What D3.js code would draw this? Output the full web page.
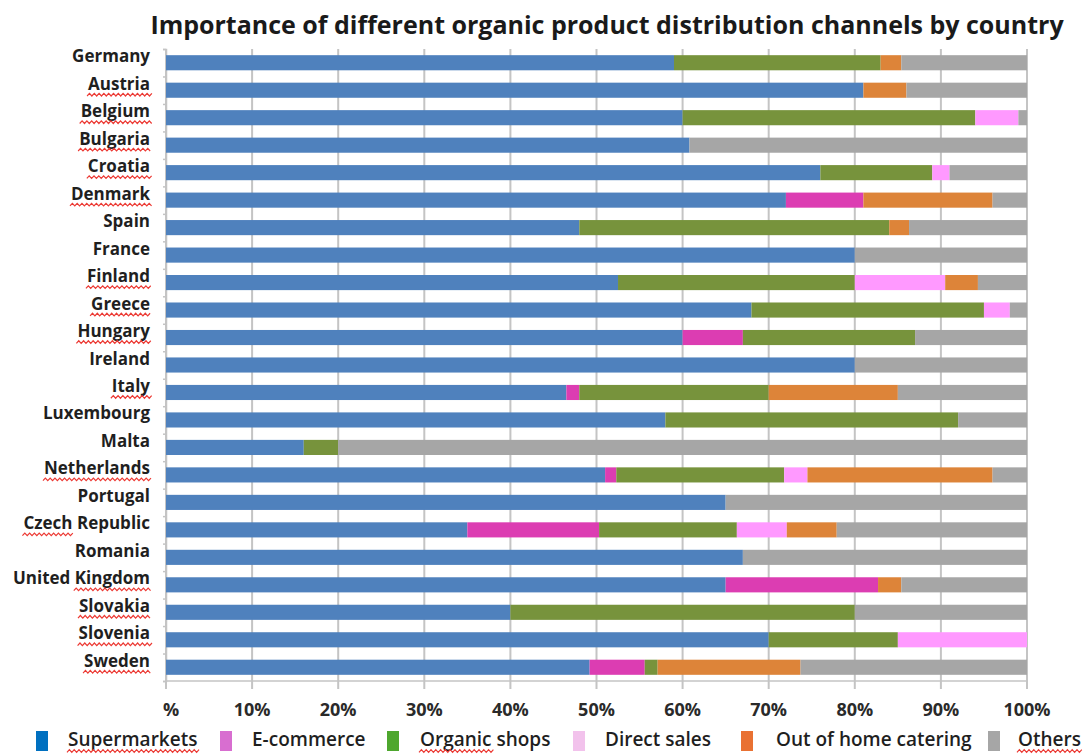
<!DOCTYPE html>
<html>
<head>
<meta charset="utf-8">
<script src="https://cdn.jsdelivr.net/npm/d3@7"></script>
<style>
  html, body { margin: 0; padding: 0; background: #ffffff; }
  svg { display: block; font-family: "Open Sans", "Noto Sans", sans-serif; }
</style>
</head>
<body>
<svg id="chart" width="1089" height="754"></svg>
<script>
// Share of each distribution channel (%) per country
const countries = ["Germany", "Austria", "Belgium", "Bulgaria", "Croatia", "Denmark", "Spain",
  "France", "Finland", "Greece", "Hungary", "Ireland", "Italy", "Luxembourg", "Malta",
  "Netherlands", "Portugal", "Czech Republic", "Romania", "United Kingdom", "Slovakia",
  "Slovenia", "Sweden"];
const supermarkets = [59, 81, 60, 60.8, 76, 72, 48, 80, 52.5, 68, 60, 80, 46.5, 58, 16, 51, 65, 35, 67, 65, 40, 70, 49.2];
const ecommerce    = [0, 0, 0, 0, 0, 9, 0, 0, 0, 0, 7, 0, 1.5, 0, 0, 1.3, 0, 15.3, 0, 17.7, 0, 0, 6.4];
const organicShops = [24, 0, 34, 0, 13, 0, 36, 0, 27.5, 27, 20, 0, 22, 34, 4, 19.5, 0, 16, 0, 0, 40, 15, 1.5];
const directSales  = [0, 0, 5, 0, 2, 0, 0, 0, 10.5, 3, 0, 0, 0, 0, 0, 2.7, 0, 5.8, 0, 0, 0, 15, 0];
const catering     = [2.4, 5, 0, 0, 0, 15, 2.3, 0, 3.8, 0, 0, 0, 15, 0, 0, 21.5, 0, 5.8, 0, 2.7, 0, 0, 16.6];
const others       = [14.6, 14, 1, 39.2, 9, 4, 13.7, 20, 5.7, 2, 13, 20, 15, 8, 80, 4, 35, 22.1, 33, 14.6, 20, 0, 26.3];

const seriesNames = ["Supermarkets", "E-commerce", "Organic shops", "Direct sales", "Out of home catering", "Others"];
const seriesValues = [supermarkets, ecommerce, organicShops, directSales, catering, others];
const tickValues = [0, 10, 20, 30, 40, 50, 60, 70, 80, 90, 100];
const tickLabels = ["0%", "10%", "20%", "30%", "40%", "50%", "60%", "70%", "80%", "90%", "100%"];
const titleText = "Importance of different organic product distribution channels by country";

// Bar fills and legend swatch fills
const barColors = ["#4f81bd", "#dc3db2", "#77933c", "#ff99ff", "#dd8439", "#a6a6a6"];
const swatchColors = ["#0070c0", "#d86ed0", "#4ea72e", "#f2c2ec", "#e97132", "#a6a6a6"];

// Words flagged by the spell checker in the source document (label -> [start, end])
const flagged = {
  "Austria": [0, 7], "Belgium": [0, 7], "Bulgaria": [0, 8], "Croatia": [0, 7], "Denmark": [0, 7],
  "Finland": [0, 7], "Greece": [0, 6], "Hungary": [0, 7], "Italy": [0, 5], "Netherlands": [0, 11],
  "Czech Republic": [0, 5], "United Kingdom": [7, 14], "Slovakia": [0, 8], "Slovenia": [0, 8],
  "Sweden": [0, 6], "Supermarkets": [0, 12], "Organic shops": [0, 7], "Others": [0, 6]
};

const rows = countries.map((c, i) => {
  const r = { country: c };
  seriesNames.forEach((s, k) => { r[s] = seriesValues[k][i]; });
  return r;
});

const svg = d3.select("#chart");
const plotLeft = 166, plotRight = 1027, plotTop = 49, plotBottom = 681;

const x = d3.scaleLinear().domain([0, 100]).range([plotLeft, plotRight]);
const y = d3.scaleBand().domain(countries).range([plotTop, plotBottom]).paddingInner(0.45).paddingOuter(0.225);

// Title
svg.append("text")
  .attr("x", 607).attr("y", 34)
  .attr("text-anchor", "middle")
  .attr("font-size", 25).attr("font-weight", 700)
  .attr("fill", "#1a1a1a")
  .text(titleText);

// Vertical gridlines (run a little below the axis as tick marks)
svg.append("g").selectAll("line")
  .data(tickValues)
  .join("line")
  .attr("x1", d => x(d)).attr("x2", d => x(d))
  .attr("y1", plotTop).attr("y2", plotBottom + 8)
  .attr("stroke", "#c4c4c4").attr("stroke-width", 2);

// Bottom axis line
svg.append("line")
  .attr("x1", plotLeft).attr("x2", plotRight)
  .attr("y1", plotBottom).attr("y2", plotBottom)
  .attr("stroke", "#c4c4c4").attr("stroke-width", 1.5);

// Left axis with small ticks at band boundaries
const yAxis = d3.axisLeft(d3.scaleLinear().domain([0, countries.length]).range([plotTop, plotBottom]))
  .ticks(countries.length).tickSize(3).tickFormat("");
svg.append("g")
  .attr("transform", `translate(${plotLeft},0)`)
  .call(yAxis)
  .call(g => g.selectAll("path, line").attr("stroke", "#c4c4c4").attr("stroke-width", 1.5));

// Stacked bars
const stacked = d3.stack().keys(seriesNames)(rows);
svg.append("g").selectAll("g")
  .data(stacked)
  .join("g")
  .attr("fill", (d, i) => barColors[i])
  .selectAll("rect")
  .data(d => d.filter(p => p[1] - p[0] > 0))
  .join("rect")
  .attr("x", d => x(d[0]))
  .attr("width", d => x(d[1]) - x(d[0]))
  .attr("y", d => y(d.data.country))
  .attr("height", y.bandwidth());

// Red spell-check squiggle under part of a text element
function squiggle(textSel, anchor) {
  textSel.each(function () {
    const label = this.textContent;
    const span = flagged[label];
    if (!span) return;
    const total = this.getComputedTextLength();
    const tx = +this.getAttribute("x"), ty = +this.getAttribute("y");
    const startX = anchor === "end" ? tx - total : tx;
    const x0 = startX + (span[0] > 0 ? this.getSubStringLength(0, span[0]) : 0) - 1;
    const x1 = startX + this.getSubStringLength(0, span[1]) + 2;
    const yy = ty + 5;
    const pts = [];
    for (let px = x0, k = 0; px <= x1; px += 2.4, k++) pts.push([px, yy + (k % 2 ? -1.3 : 1.3)]);
    d3.select(this.parentNode).append("path")
      .attr("d", d3.line()(pts))
      .attr("fill", "none").attr("stroke", "#ec3a34").attr("stroke-width", 1.2);
  });
}

// Country labels
const labelG = svg.append("g");
const labels = labelG.selectAll("text")
  .data(countries)
  .join("text")
  .attr("x", 150)
  .attr("y", d => y(d) + y.bandwidth() / 2 - 0.5)
  .attr("text-anchor", "end")
  .attr("font-size", 17).attr("font-weight", 700)
  .attr("fill", "#1f1f1f")
  .text(d => d);
squiggle(labels, "end");

// Percentage tick labels (the leftmost one is clipped at the plot edge)
svg.append("defs").append("clipPath").attr("id", "tickClip")
  .append("rect").attr("x", 163).attr("y", 690).attr("width", 926).attr("height", 40);
svg.append("g").attr("clip-path", "url(#tickClip)")
  .selectAll("text")
  .data(tickValues)
  .join("text")
  .attr("x", d => x(d))
  .attr("y", 716)
  .attr("text-anchor", "middle")
  .attr("font-size", 18).attr("font-weight", 700)
  .attr("fill", "#2a2a2a")
  .text((d, i) => tickLabels[i]);

// Legend
const legendSwatchX = [36, 220, 387, 573, 741, 988];
const legendTextX = [68, 252, 420, 605, 776, 1018];
const legend = svg.append("g");
legend.selectAll("rect")
  .data(seriesNames)
  .join("rect")
  .attr("x", (d, i) => legendSwatchX[i]).attr("y", 731)
  .attr("width", 12).attr("height", 20)
  .attr("fill", (d, i) => swatchColors[i]);
const legendTexts = legend.selectAll("text")
  .data(seriesNames)
  .join("text")
  .attr("x", (d, i) => legendTextX[i]).attr("y", 746)
  .attr("font-size", 19).attr("font-weight", 600)
  .attr("fill", "#1f1f1f")
  .text(d => d);
squiggle(legendTexts, "start");
</script>
</body>
</html>
